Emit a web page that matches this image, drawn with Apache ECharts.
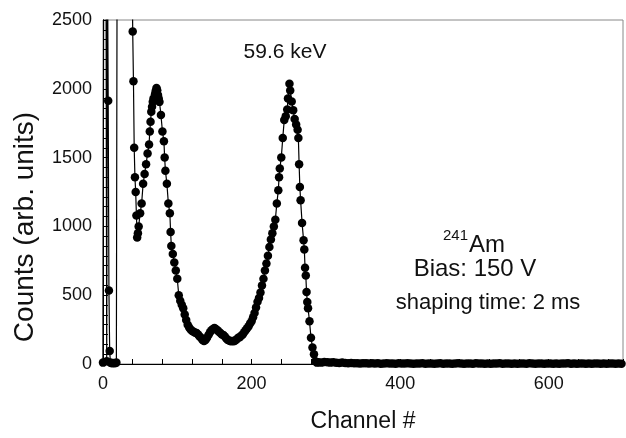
<!DOCTYPE html>
<html>
<head>
<meta charset="utf-8">
<script src="https://cdn.jsdelivr.net/npm/echarts@6/dist/echarts.min.js"></script>
<style>
html,body{margin:0;padding:0;background:#fff;}
#chart{width:626px;height:438px;}
</style>
</head>
<body>
<div id="chart"></div>
<script>
// Spectrum data: [channel, counts] (values > 2500 are off-scale spikes)
const noiseRegion = [[0,10],[1,3000],[2,3000],[3,3000],[4,3000],[5,20],[6,3000],[7,1914],[8,535],[9,95],[10,10],[12,5],[14,8],[16,5],[18,10],[19,3000],[24,3000],[30,3000],[36,3000],[39,3000],[40,2417],[41,2055],[42,1571],[43,1357],[44,1250],[45,1080],[46,920]];
const firstPeak = [[47,950],[48,1000],[50,1095],[52,1167],[54,1310],[56,1381],[58,1452],[60,1530],[62,1595],[63,1690],[64,1760],[65,1833],[66,1870],[67,1905],[68,1930],[70,1960],[71,1985],[72,2005],[73,1990],[74,1955],[75,1930],[76,1905],[78,1810],[80,1690],[82,1619],[83,1500],[84,1405],[86,1310],[88,1167],[90,1095],[91,960],[92,857],[94,800],[96,738],[98,680],[100,619],[102,500],[104,460],[106,430],[108,405],[110,360],[112,320],[114,286],[116,265],[118,250],[120,240],[122,235],[124,228],[126,226],[128,215],[130,200],[132,190],[134,175]];
const valley = [[136,167],[138,175],[140,190],[142,210],[144,230],[146,245],[148,255],[150,262],[152,255],[154,245],[156,235],[158,225],[160,215],[162,210],[164,200],[166,185],[168,175],[170,170],[172,165],[174,167],[176,165],[178,170],[180,180],[182,190],[184,195],[186,205],[188,214],[190,230],[192,245],[194,260],[196,275],[198,295]];
const secondPeak = [[200,310],[202,340],[204,370],[206,410],[208,452],[210,480],[212,520],[214,570],[216,620],[218,680],[220,730],[222,786],[224,850],[226,905],[228,950],[230,1000],[232,1048],[234,1167],[236,1262],[237,1357],[238,1420],[240,1500],[242,1643],[244,1774],[246,1800],[248,1850],[249,1930],[251,2036],[252,1988],[254,1907],[256,1845],[258,1780],[260,1740],[262,1702],[263,1643],[264,1452],[265,1286],[266,1190],[268,1024],[270,900],[271,833],[272,700],[273,643],[274,524],[275,450],[276,405],[278,310],[280,190],[282,120],[284,71],[286,20],[288,10]];
const tail = [[290,12],[294,10],[298,14],[302,12],[306,10],[310,12],[314,9],[318,8],[322,10],[326,7],[330,6],[334,8],[338,5],[342,6],[346,4],[350,5],[354,6],[358,3],[362,5],[366,4],[370,6],[374,2],[378,4],[382,5],[386,3],[390,4],[394,2],[398,5],[402,3],[406,4],[410,6],[414,3],[418,2],[422,4],[426,3],[430,5],[434,2],[438,3],[442,4],[446,2],[450,3],[454,5],[458,2],[462,4],[466,3],[470,2],[474,4],[478,6],[482,3],[486,2],[490,4],[494,3],[498,2],[502,5],[506,3],[510,4],[514,2],[518,3],[522,2],[526,4],[530,3],[534,5],[538,2],[542,3],[546,4],[550,2],[554,3],[558,2],[562,4],[566,3],[570,2],[574,5],[578,3],[582,2],[586,4],[590,3],[594,2],[598,3],[602,4],[606,2],[610,3],[614,2],[618,4],[622,3],[626,5],[630,2],[634,3],[638,2],[642,4],[646,3],[650,2],[654,3],[658,2],[662,4],[666,3],[670,2],[674,3],[678,2],[682,4],[686,3],[690,2],[694,3],[698,2]];

const xTickLabels = [0, 200, 400, 600];
const yTickLabels = [0, 500, 1000, 1500, 2000, 2500];

const spectrum = [].concat(noiseRegion, firstPeak, valley, secondPeak, tail);
const FONT = "'Liberation Sans', Arial, Helvetica, sans-serif";

const chart = echarts.init(document.getElementById('chart'), null, {renderer: 'canvas'});
chart.setOption({
  animation: false,
  backgroundColor: '#ffffff',
  grid: {left: 103, right: 1, top: 20, bottom: 68, show: true, borderColor: '#888888', borderWidth: 1, backgroundColor: 'transparent'},
  xAxis: {
    type: 'value', min: 0, max: 700, interval: 200,
    name: 'Channel #', nameLocation: 'middle', nameGap: 46,
    nameTextStyle: {fontFamily: FONT, fontSize: 23, color: '#111'},
    axisLine: {show: true, lineStyle: {color: '#000', width: 1}},
    axisTick: {show: true, inside: true, length: 5, lineStyle: {color: '#000'}},
    minorTick: {show: true, splitNumber: 5, length: 5, lineStyle: {color: '#000'}},
    axisLabel: {fontFamily: FONT, fontSize: 18, color: '#111', margin: 11,
      formatter: v => xTickLabels.includes(v) ? String(v) : ''},
    splitLine: {show: false}
  },
  yAxis: {
    type: 'value', min: 0, max: 2500, interval: 500,
    axisLine: {show: true, lineStyle: {color: '#000', width: 1}},
    axisTick: {show: true, inside: true, length: 5, lineStyle: {color: '#000'}},
    minorTick: {show: true, splitNumber: 7, length: 5, lineStyle: {color: '#000'}},
    axisLabel: {fontFamily: FONT, fontSize: 18, color: '#111', margin: 11,
      formatter: v => yTickLabels.includes(v) ? String(v) : ''},
    splitLine: {show: false}
  },
  series: [{
    type: 'line',
    data: spectrum,
    clip: true,
    symbol: 'circle',
    symbolSize: 8.5,
    showAllSymbol: true,
    itemStyle: {color: '#000'},
    lineStyle: {color: '#000', width: 1.2},
    z: 3
  }],
  graphic: [
    {type: 'text', x: 25, y: 227, rotation: Math.PI / 2, style: {text: 'Counts (arb. units)', fontFamily: FONT, fontSize: 28, fill: '#111', align: 'center', verticalAlign: 'middle'}},
    {type: 'text', x: 285, y: 52, style: {text: '59.6 keV', fontFamily: FONT, fontSize: 21, fill: '#111', align: 'center', verticalAlign: 'middle'}},
    {type: 'text', x: 468, y: 236, style: {text: '241', fontFamily: FONT, fontSize: 15, fill: '#111', align: 'right', verticalAlign: 'middle'}},
    {type: 'text', x: 469, y: 245, style: {text: 'Am', fontFamily: FONT, fontSize: 24, fill: '#111', align: 'left', verticalAlign: 'middle'}},
    {type: 'text', x: 475, y: 269, style: {text: 'Bias: 150 V', fontFamily: FONT, fontSize: 24, fill: '#111', align: 'center', verticalAlign: 'middle'}},
    {type: 'text', x: 488, y: 303, style: {text: 'shaping time: 2 ms', fontFamily: FONT, fontSize: 22, fill: '#111', align: 'center', verticalAlign: 'middle'}}
  ]
});
</script>
</body>
</html>
